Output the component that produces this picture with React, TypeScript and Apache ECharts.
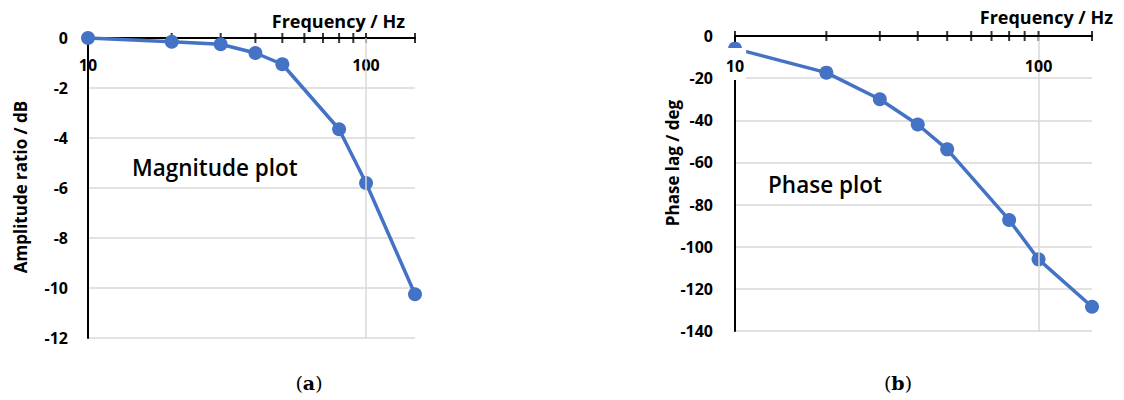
import React, { useEffect, useRef } from "react";
import * as echarts from "echarts";

const freqHz = [10, 20, 30, 40, 50, 80, 100, 150];
const magnitudeDb = [0, -0.15, -0.25, -0.6, -1.05, -3.65, -5.8, -10.25];
const phaseDeg = [-6, -17.4, -30, -42, -53.8, -87.3, -106, -128.5];
const freqTickHz = [10, 20, 30, 40, 50, 60, 70, 80, 90, 100, 150];
const freqLabelHz = [10, 100];
const gridFreqHz = [100];

const BLUE = "#4472C4";
const GRID = "#d9d9d9";
const FONT = "Open Sans";

export default function App() {
  const ref = useRef<HTMLDivElement>(null);
  useEffect(() => {
    if (!ref.current) return;
    const chart = echarts.init(ref.current, undefined, { renderer: "svg" });
    const labelFmt = (v: number) =>
      freqLabelHz.some((f) => Math.abs(f - v) < 1e-6) ? String(Math.round(v)) : "";
    const labelFmtRich = (v: number) =>
      freqLabelHz.some((f) => Math.abs(f - v) < 1e-6)
        ? (Math.abs(v - 10) < 1e-6 ? "{w|10}" : "{n|" + Math.round(v) + "}")
        : "";
    const xAxisBase = (gridIndex: number) => ({
      type: "log",
      logBase: 10,
      gridIndex,
      position: "top",
      min: 10,
      max: 150,
      axisLine: { show: true, onZero: false, lineStyle: { color: "#000", width: 2 } },
      axisTick: { show: false },
      splitLine: { show: false },
    });
    const yAxisBase = (gridIndex: number, min: number, interval: number, margin: number) => ({
      type: "value",
      gridIndex,
      min,
      max: 0,
      interval,
      axisLine: { show: true, onZero: false, lineStyle: { color: "#000", width: 2 } },
      axisTick: { show: false },
      splitLine: { show: true, lineStyle: { color: GRID, width: 1.5 } },
      axisLabel: { margin, fontFamily: FONT, fontWeight: "bold", fontSize: 16, color: "#000" },
    });
    const tickSeries = (idx: number) => ({
      type: "scatter",
      xAxisIndex: idx,
      yAxisIndex: idx,
      data: freqTickHz.map((f) => [f, 0]),
      symbol: "rect",
      symbolSize: [2, 10],
      itemStyle: { color: "#000" },
      clip: false,
      silent: true,
      z: 1,
      markLine: {
        silent: true,
        symbol: "none",
        label: { show: false },
        lineStyle: { color: GRID, width: 1.5, type: "solid" },
        data: gridFreqHz.map((f) => ({ xAxis: f })),
      },
    });
    const lineSeries = (idx: number, values: number[]) => ({
      type: "line",
      xAxisIndex: idx,
      yAxisIndex: idx,
      data: freqHz.map((f, i) => [f, values[i]]),
      symbol: "circle",
      symbolSize: 14,
      clip: false,
      z: 3,
      lineStyle: { color: BLUE, width: 3.5 },
      itemStyle: { color: BLUE },
    });
    const txt = (text: string, x: number, y: number, extra: any = {}) => ({
      type: "text",
      x,
      y,
      rotation: extra.rotation || 0,
      style: {
        text,
        fontFamily: FONT,
        fontSize: extra.fontSize || 18,
        fontWeight: extra.fontWeight || "bold",
        fill: "#000",
        align: extra.align || "left",
        verticalAlign: "middle",
      },
    });
    const caption = (letter: string, x: number) => ({
      type: "text",
      x,
      y: 383,
      style: {
        text: "{p|(}{b|" + letter + "}{p|)}",
        align: "center",
        verticalAlign: "middle",
        rich: {
          p: { fontFamily: "DejaVu Serif", fontSize: 19, fill: "#000", color: "#000" },
          b: { fontFamily: "DejaVu Serif", fontSize: 19, fontWeight: "bold", fill: "#000", color: "#000" },
        },
      },
    });
    chart.setOption({
      animation: false,
      grid: [
        { left: 88, top: 38, width: 327, height: 300 },
        { left: 735, top: 36, width: 357, height: 295 },
      ],
      xAxis: [
        {
          ...xAxisBase(0),
          axisLabel: {
            inside: true, margin: 19, fontFamily: FONT, fontWeight: "bold", fontSize: 16,
            color: "#000", formatter: labelFmt,
          },
        },
        {
          ...xAxisBase(1),
          z: 5,
          axisLabel: {
            inside: true, margin: 12, fontFamily: FONT, fontWeight: "bold", fontSize: 16,
            color: "#000", formatter: labelFmtRich,
            rich: {
              w: { backgroundColor: "#fff", padding: [10, 2, 6, 2], fontFamily: FONT, fontWeight: "bold", fontSize: 16, color: "#000" },
              n: { padding: [10, 0, 6, 0], fontFamily: FONT, fontWeight: "bold", fontSize: 16, color: "#000" },
            },
          },
        },
      ],
      yAxis: [yAxisBase(0, -12, 2, 20), yAxisBase(1, -140, 20, 22)],
      series: [
        tickSeries(0),
        tickSeries(1),
        lineSeries(0, magnitudeDb),
        lineSeries(1, phaseDeg),
      ],
      graphic: [
        txt("Frequency / Hz", 405, 21, { align: "right" }),
        txt("Frequency / Hz", 1113, 17, { align: "right" }),
        txt("Magnitude plot", 132, 167, { fontSize: 22.5, fontWeight: 600 }),
        txt("Phase plot", 768, 184, { fontSize: 22.5, fontWeight: 600 }),
        txt("Amplitude ratio / dB", 20, 187, { align: "center", rotation: Math.PI / 2, fontSize: 17 }),
        txt("Phase lag / deg", 672, 163, { align: "center", rotation: Math.PI / 2, fontSize: 17 }),
        caption("a", 309),
        caption("b", 898),
      ],
    });
    return () => chart.dispose();
  }, []);
  return (
    <div
      ref={ref}
      style={{ position: "absolute", left: 0, top: 0, width: 1124, height: 400, background: "#fff" }}
    />
  );
}
